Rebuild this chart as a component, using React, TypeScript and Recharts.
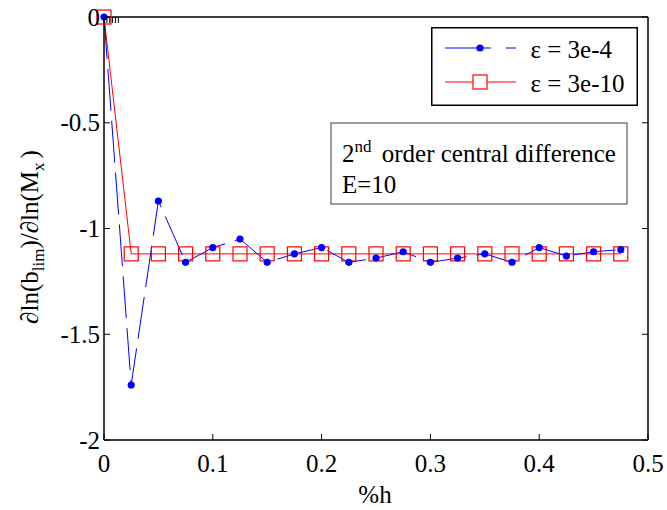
import { LineChart, Line, XAxis, YAxis, Legend, Customized } from 'recharts';

// step sizes (%h) and derivative estimates
const H_STEPS = [
  0, 0.025, 0.05, 0.075, 0.1, 0.125, 0.15, 0.175, 0.2, 0.225,
  0.25, 0.275, 0.3, 0.325, 0.35, 0.375, 0.4, 0.425, 0.45, 0.475,
];
const EPS_3E4 = [
  0, -1.74, -0.87, -1.16, -1.09, -1.05, -1.16, -1.12, -1.09, -1.16,
  -1.14, -1.11, -1.16, -1.14, -1.12, -1.16, -1.09, -1.13, -1.11, -1.1,
];
const EPS_3E10 = [
  0, -1.12, -1.12, -1.12, -1.12, -1.12, -1.12, -1.12, -1.12, -1.12,
  -1.12, -1.12, -1.12, -1.12, -1.12, -1.12, -1.12, -1.12, -1.12, -1.12,
];
const X_TICKS = [0, 0.1, 0.2, 0.3, 0.4, 0.5];
const Y_TICKS = [-2, -1.5, -1, -0.5, 0];

const data = H_STEPS.map((h, i) => ({ h, coarse: EPS_3E4[i], fine: EPS_3E10[i] }));

const SERIF = { fontFamily: "'Liberation Serif', 'Times New Roman', serif" };
const FS = 25;
const SUB = 17;
const TICK_LEN = 6;

const BottomTick = ({ x, y, payload }: any) => (
  <g>
    <line x1={x} y1={y} x2={x} y2={y - TICK_LEN} stroke="#000" />
    <text x={x} y={y + 32} textAnchor="middle" style={SERIF} fontSize={FS} fill="#000">
      {payload.value}
    </text>
  </g>
);

const LeftTick = ({ x, y, payload }: any) => (
  <g>
    <line x1={x} y1={y} x2={x + TICK_LEN} y2={y} stroke="#000" />
    <text x={x - 4} y={y + 8.5} textAnchor="end" style={SERIF} fontSize={FS} fill="#000">
      {payload.value}
    </text>
  </g>
);

const TopTick = ({ x, y }: any) => <line x1={x} y1={y} x2={x} y2={y + TICK_LEN} stroke="#000" />;
const RightTick = ({ x, y }: any) => <line x1={x} y1={y} x2={x - TICK_LEN} y2={y} stroke="#000" />;

const SquareDot = ({ cx, cy, index }: any) => (
  <rect key={`sq-${index}`} x={cx - 7} y={cy - 7} width={14} height={14} fill="none" stroke="#ff0000" strokeWidth={1.2} />
);

const CircleDot = ({ cx, cy, index }: any) => (
  <circle key={`c-${index}`} cx={cx} cy={cy} r={3.6} fill="#0000ff" stroke="none" />
);

const renderLegend = ({ payload }: any) => {
  const items = [...(payload || [])].sort((a: any, b: any) => (a.dataKey === 'coarse' ? -1 : b.dataKey === 'coarse' ? 1 : 0));
  return (
    <svg width={207} height={79} style={{ display: 'block' }}>
      <rect x={0.75} y={0.75} width={205.5} height={77.5} fill="#fff" stroke="#000" strokeWidth={1.5} />
      {items.map((item: any, i: number) => {
        const cy = 21 + i * 34;
        const isCoarse = item.dataKey === 'coarse';
        return (
          <g key={item.value}>
            {isCoarse ? (
              <g>
                <line x1={14} y1={cy} x2={60} y2={cy} stroke="#0000ff" />
                <line x1={75} y1={cy} x2={85} y2={cy} stroke="#0000ff" />
                <circle cx={49} cy={cy} r={3.6} fill="#0000ff" />
              </g>
            ) : (
              <g>
                <line x1={14} y1={cy} x2={85} y2={cy} stroke="#ff0000" />
                <rect x={42} y={cy - 7} width={14} height={14} fill="#fff" stroke="#ff0000" strokeWidth={1.2} />
              </g>
            )}
            <text x={99.5} y={cy + 10} style={SERIF} fontSize={FS} fill="#000">
              {item.value}
            </text>
          </g>
        );
      })}
    </svg>
  );
};

const Annotations = () => (
  <g fill="#000">
    <rect x={331} y={123} width={296} height={81} fill="#fff" stroke="#404040" strokeWidth={1} />
    <text x={342} y={162} fontSize={FS} style={SERIF}>
      2<tspan dy={-10} fontSize={SUB}>nd</tspan>
      <tspan dy={10} dx={4}> order central difference</tspan>
    </text>
    <text x={342} y={193} fontSize={FS} style={SERIF}>
      E=10
    </text>
    <text transform="translate(38, 237) rotate(-90)" textAnchor="middle" fontSize={FS} style={SERIF}>
      ∂ln(b<tspan dy={6} fontSize={SUB}>lim</tspan>
      <tspan dy={-6}>)/∂ln(M</tspan>
      <tspan dy={6} fontSize={SUB}>x</tspan>
      <tspan dy={-6} dx={4}>)</tspan>
    </text>
    <text x={375} y={503} textAnchor="middle" fontSize={FS} style={SERIF}>
      %h
    </text>
  </g>
);

export default function App() {
  return (
    <div style={{ position: 'absolute', left: 0, top: 0, background: '#fff' }}>
      <LineChart width={667} height={510} data={data} margin={{ top: 16, right: 18, bottom: 69, left: 103 }}>
        <XAxis
          dataKey="h"
          type="number"
          domain={[0, 0.5]}
          ticks={X_TICKS}
          height={1}
          tickSize={0}
          tickMargin={0}
          tickLine={false}
          tick={<BottomTick />}
          axisLine={{ stroke: '#000', strokeWidth: 1.5 }}
          interval={0}
        />
        <XAxis
          xAxisId="top"
          orientation="top"
          type="number"
          domain={[0, 0.5]}
          ticks={X_TICKS}
          allowDataOverflow
          height={1}
          tickSize={0}
          tickMargin={0}
          tickLine={false}
          tick={<TopTick />}
          axisLine={{ stroke: '#000', strokeWidth: 1.5 }}
          interval={0}
        />
        <YAxis
          type="number"
          domain={[-2, 0]}
          ticks={Y_TICKS}
          width={1}
          tickSize={0}
          tickMargin={0}
          tickLine={false}
          tick={<LeftTick />}
          axisLine={{ stroke: '#000', strokeWidth: 1.5 }}
          interval={0}
        />
        <YAxis
          yAxisId="right"
          orientation="right"
          type="number"
          domain={[-2, 0]}
          ticks={Y_TICKS}
          allowDataOverflow
          width={1}
          tickSize={0}
          tickMargin={0}
          tickLine={false}
          tick={<RightTick />}
          axisLine={{ stroke: '#000', strokeWidth: 1.5 }}
          interval={0}
        />
        <Customized component={Annotations} />
        <Line
          dataKey="fine"
          name="ε = 3e-10"
          stroke="#ff0000"
          strokeWidth={1}
          dot={<SquareDot />}
          activeDot={false}
          isAnimationActive={false}
        />
        <Line
          dataKey="coarse"
          name="ε = 3e-4"
          stroke="#0000ff"
          strokeWidth={1}
          strokeDasharray="42 10"
          dot={<CircleDot />}
          activeDot={false}
          isAnimationActive={false}
        />
        <Legend
          layout="horizontal"
          align="center"
          verticalAlign="middle"
          content={renderLegend}
          wrapperStyle={{ left: 431, top: 27, width: 207, height: 79 }}
        />
      </LineChart>
    </div>
  );
}
